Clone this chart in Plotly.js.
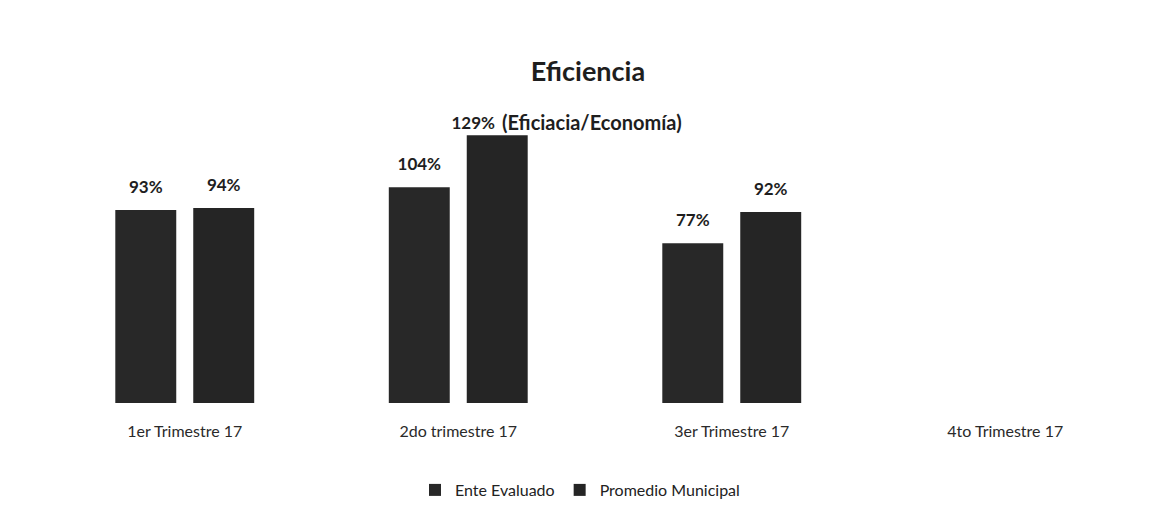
<!DOCTYPE html>
<html><head><meta charset="utf-8">
<script src="https://cdn.plot.ly/plotly-3.0.1.min.js"></script>
<style>html,body{margin:0;padding:0;background:#fff}#chart{width:1151px;height:529px}</style>
</head><body><div id="chart"></div>
<script>
const categories = ["1er Trimestre 17", "2do trimestre 17", "3er Trimestre 17", "4to Trimestre 17"];
const enteEvaluado = [93, 104, 77, null];
const promedioMunicipal = [94, 129, 92, null];
const seriesNames = ["Ente Evaluado", "Promedio Municipal"];

const fontFam = "Lato, 'Open Sans', sans-serif";
function lbl(v){ return v.map(x => x == null ? "" : "<b>" + x + "%</b>"); }

const GAP = 0.43;
const barColors = ["#282828", "#252525"];
const series = [enteEvaluado, promedioMunicipal];
// label styling: the tallest label is pushed down/left (as in the original, it hits the plot top)
const labelPos = [
  ["top center","top center","top center","top center"],
  ["top center","top left","top center","top center"]
];
const labelPad = [
  [19,19,19,19],
  [19,2,19,19]
];

const traces = [];
series.forEach((vals, i) => {
  traces.push({type:"bar", name:seriesNames[i], x:categories, y:vals,
    offsetgroup:"g"+i, marker:{color:barColors[i]}, hoverinfo:"skip"});
});
series.forEach((vals, i) => {
  traces.push({type:"scatter", mode:"markers+text", x:categories, y:vals, text:lbl(vals),
    offsetgroup:"g"+i, showlegend:false, cliponaxis:false, hoverinfo:"skip",
    textposition:labelPos[i], textfont:{family:fontFam,size:17,color:"#1e1e1e"},
    marker:{size:labelPad[i], opacity:0, color:"#fff"}});
});

const layout = {
  width:1151, height:529,
  margin:{l:48, r:9, t:120, b:126},
  paper_bgcolor:"#fff", plot_bgcolor:"#fff",
  font:{family:fontFam, color:"#222"},
  barmode:"group", bargap:GAP, bargroupgap:0.218,
  scattermode:"group", scattergap:GAP,
  title:{text:"<b>Eficiencia</b>", font:{family:fontFam,size:27,color:"#1e1e1e"},
         x:588/1151, xanchor:"center", xref:"container", y:1-71.5/529, yanchor:"middle", yref:"container"},
  annotations:[{text:"<b>(Eficiacia/Economía)</b>", xref:"paper", yref:"paper",
    x:(592-48)/1094, y:(403-121.5)/283, xanchor:"center", yanchor:"middle", showarrow:false,
    font:{family:fontFam,size:20,color:"#1e1e1e"}}],
  xaxis:{type:"category", showline:false, showgrid:false, zeroline:false, ticks:"",
         tickfont:{family:fontFam,size:16,color:"#2a2a2a"}, ticklabelstandoff:17},
  yaxis:{range:[0,136.4], visible:false, showgrid:false, zeroline:false},
  showlegend:true,
  legend:{orientation:"h", x:580/1151, xanchor:"center", xref:"container", y:1-490/529, yanchor:"middle", yref:"container",
          font:{family:fontFam,size:16,color:"#222"}, traceorder:"normal", itemwidth:30}
};
Plotly.newPlot("chart", traces, layout, {displayModeBar:false, staticPlot:true});
</script></body></html>
